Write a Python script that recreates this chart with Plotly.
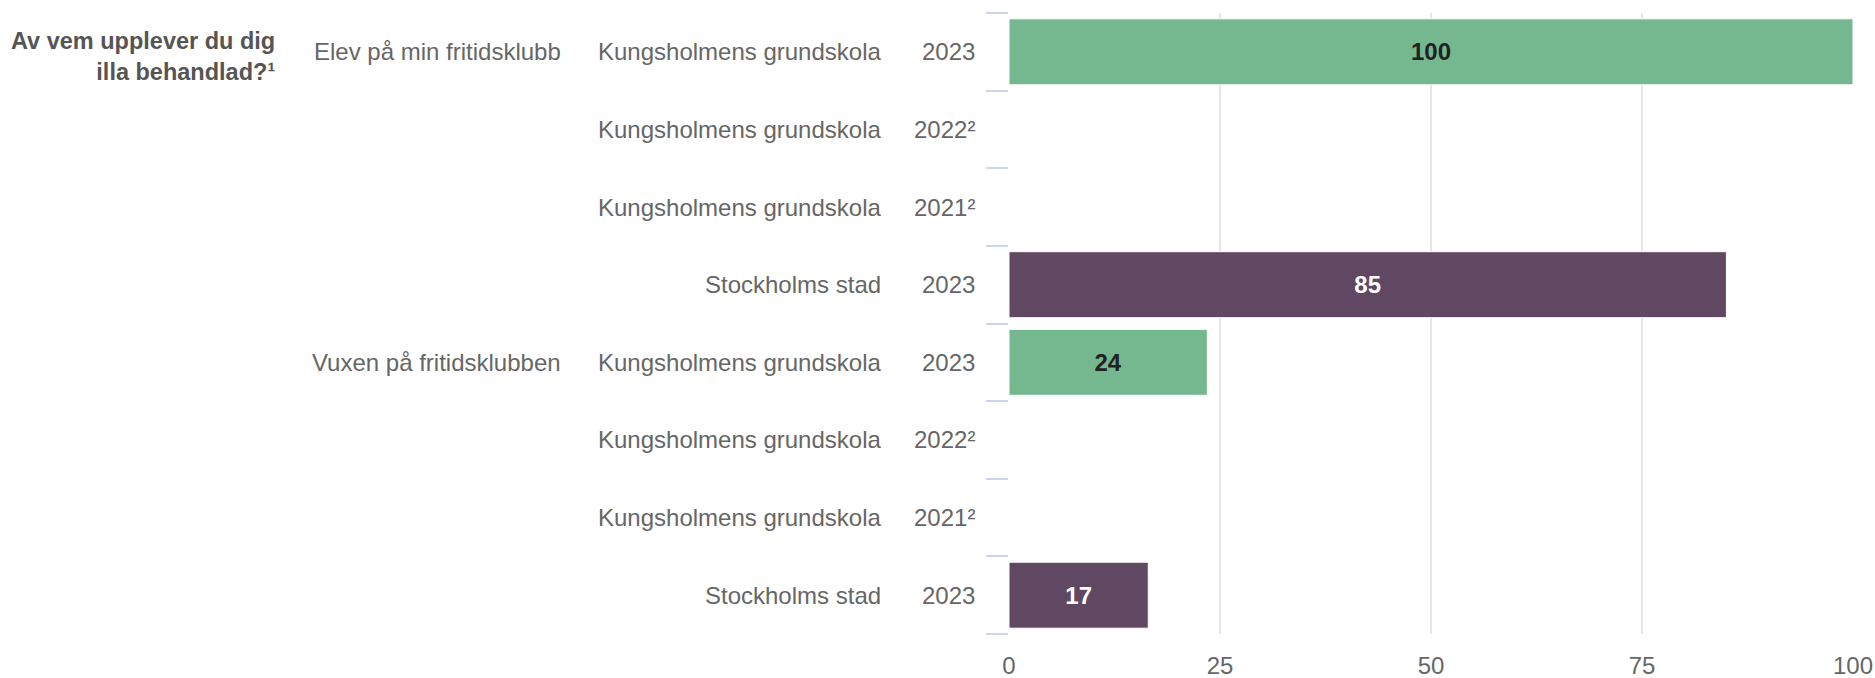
import plotly.graph_objects as go

# ---- data ----
question = "Av vem upplever du dig<br>illa behandlad?¹"
groups = ["Elev på min fritidsklubb", "Vuxen på fritidsklubben"]
units = ["Kungsholmens grundskola", "Kungsholmens grundskola",
         "Kungsholmens grundskola", "Stockholms stad"]
years = ["2023", "2022²", "2021²", "2023"]
values_elev = [100, None, None, 85]
values_vuxen = [23.5, None, None, 16.5]
x_ticks = [0, 25, 50, 75, 100]

unit_colors = {"Kungsholmens grundskola": "#75b88f", "Stockholms stad": "#604762"}
unit_text_colors = {"Kungsholmens grundskola": "#222222", "Stockholms stad": "#ffffff"}

FONT = "Liberation Sans, Arial, Helvetica, sans-serif"
LABEL_COLOR = "#666666"
FS = 24

# flatten rows
row_values, row_units, row_years, row_groups = [], [], [], []
for g, vals in zip(groups, [values_elev, values_vuxen]):
    for u, yv, v in zip(units, years, vals):
        row_values.append(v)
        row_units.append(u)
        row_years.append(yv)
        row_groups.append(g)
rows = list(range(len(row_values)))

fig = go.Figure()
fig.add_trace(go.Bar(
    x=row_values,
    y=rows,
    orientation="h",
    width=0.85,
    marker=dict(color=[unit_colors[u] for u in row_units],
                line=dict(color="#ffffff", width=1)),
    texttemplate="%{x:.0f}",
    textposition="inside",
    insidetextanchor="middle",
    textangle=0,
    textfont=dict(family=FONT, size=FS, color=[unit_text_colors[u] for u in row_units],
                  weight="bold"),
    hoverinfo="skip",
    showlegend=False,
))

annotations = []
# year column and unit column
for r, u, yv in zip(rows, row_units, row_years):
    annotations.append(dict(x=0, y=r, xref="x", yref="y", text=yv, showarrow=False,
                            xanchor="right", yanchor="middle", xshift=-32,
                            font=dict(family=FONT, size=FS, color=LABEL_COLOR)))
    annotations.append(dict(x=0, y=r, xref="x", yref="y", text=u, showarrow=False,
                            xanchor="right", yanchor="middle", xshift=-126,
                            font=dict(family=FONT, size=FS, color=LABEL_COLOR)))
# group column (first row of each group)
for gi, g in enumerate(groups):
    annotations.append(dict(x=0, y=gi * len(units), xref="x", yref="y", text=g,
                            showarrow=False, xanchor="right", yanchor="middle",
                            xshift=-446,
                            font=dict(family=FONT, size=FS, color=LABEL_COLOR)))
# question
annotations.append(dict(x=0, y=0, xref="x", yref="y", text=question, showarrow=False,
                        xanchor="right", yanchor="middle", align="right",
                        xshift=-732, yshift=-5,
                        font=dict(family=FONT, size=23.5, color="#555555", weight="bold")))

fig.update_layout(
    width=1875, height=678,
    margin=dict(l=1009, r=22, t=13, b=44, autoexpand=False),
    paper_bgcolor="#ffffff", plot_bgcolor="#ffffff",
    bargap=0.15,
    annotations=annotations,
    font=dict(family=FONT, size=FS, color=LABEL_COLOR),
)
fig.update_xaxes(range=[0, 100], tickvals=x_ticks, showgrid=True, automargin=False,
                 gridcolor="#e6e6e6", gridwidth=2, zeroline=False, showline=False,
                 ticks="outside", ticklen=10, tickcolor="rgba(0,0,0,0)",
                 ticklabeloverflow="allow",
                 tickfont=dict(family=FONT, size=FS, color=LABEL_COLOR))
fig.update_yaxes(range=[len(rows) - 0.5, -0.5], tickvals=[i - 0.5 for i in range(len(rows) + 1)],
                 automargin=False,
                 showticklabels=False, ticks="outside", ticklen=22, tickwidth=2,
                 tickcolor="#ccd6eb", showgrid=False, zeroline=False, showline=False)

fig.write_html("out.html", config={"displayModeBar": False},
               post_script="document.body.style.margin='0';document.body.style.overflow='hidden';")
